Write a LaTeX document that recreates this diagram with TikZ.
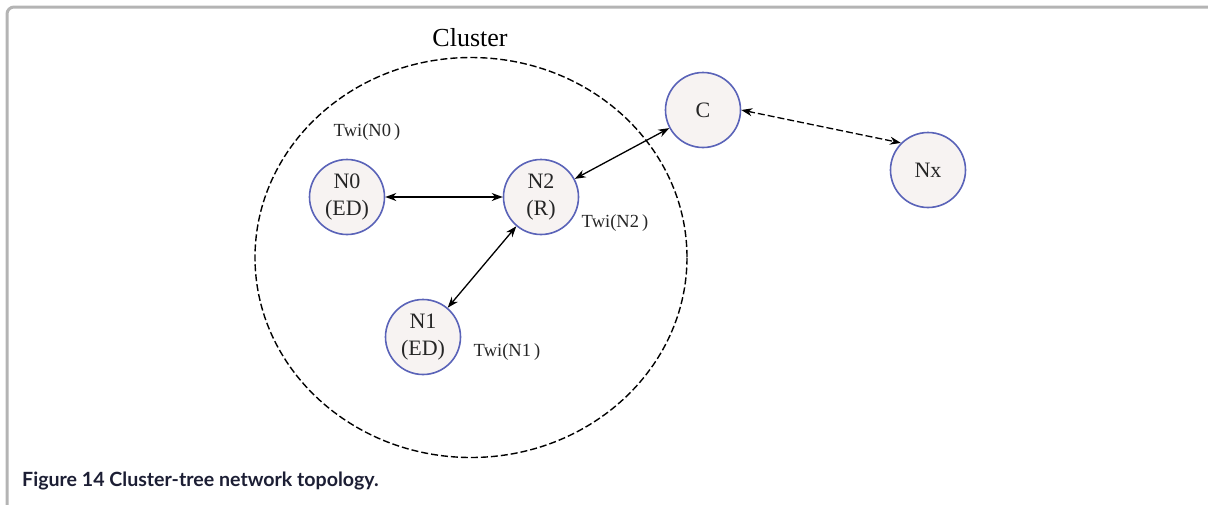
\documentclass[tikz,border=0pt]{standalone}
\usepackage{fontspec}
\setmainfont{Liberation Serif}
\newfontfamily\capfont{Lato}
\usetikzlibrary{arrows.meta}
\definecolor{nodeblue}{HTML}{5A63B8}
\definecolor{nodefill}{HTML}{F7F3F2}
\definecolor{framegray}{HTML}{B4B4B4}
\definecolor{captext}{HTML}{1C1E34}
\tikzset{
  netnode/.style={circle, draw=nodeblue, fill=nodefill, line width=1.6pt,
    minimum size=75pt, inner sep=0pt, align=center, text=black!85,
    font=\fontsize{22}{27}\selectfont},
  twilabel/.style={font=\fontsize{18.5}{20}\selectfont, text=black!85, inner sep=0pt},
  link/.style={line width=1.3pt, {Stealth[length=11pt,width=8pt]}-{Stealth[length=11pt,width=8pt]}},
}
\begin{document}
\begin{tikzpicture}[x=1pt,y=-1pt]
\useasboundingbox (0,0) rectangle (1208,504);
% frame
\draw[framegray, line width=3pt, rounded corners=7pt] (7,510) -- (7,7) -- (1215,7);
% cluster
\draw[dashed, line width=1.4pt, dash pattern=on 7pt off 3pt] (471,257.5) ellipse [x radius=216, y radius=200];
\node (cl) at (470,38) {\fontsize{26}{30}\selectfont Cluster};
% nodes
\node[netnode] (N0) at (347,197) {N0\\(ED)};
\node[netnode] (N2) at (541,197) {N2\\(R)};
\node[netnode] (N1) at (423,337) {N1\\(ED)};
\node[netnode] (C) at (703,110) {C};
\node[netnode] (Nx) at (928,170) {Nx};
% labels
\node[twilabel] (t0) at (367,132) {Twi(N0\,)};
\node[twilabel] (t2) at (615,223) {Twi(N2\,)};
\node[twilabel] (t1) at (507,352) {Twi(N1\,)};
% links
\draw[link, line width=1.7pt] (N0.east) -- (N2.west);
\draw[link] (N2) -- (C);
\draw[link] (N1) -- (N2);
\draw[link, dash pattern=on 7pt off 3pt] (C.east) -- (Nx.135);
% caption
\node[anchor=west, inner sep=0pt, text=captext] (cap) at (22,481) {\capfont\bfseries\fontsize{19.6}{22}\selectfont Figure 14 Cluster-tree network topology.};
\end{tikzpicture}
\end{document}
